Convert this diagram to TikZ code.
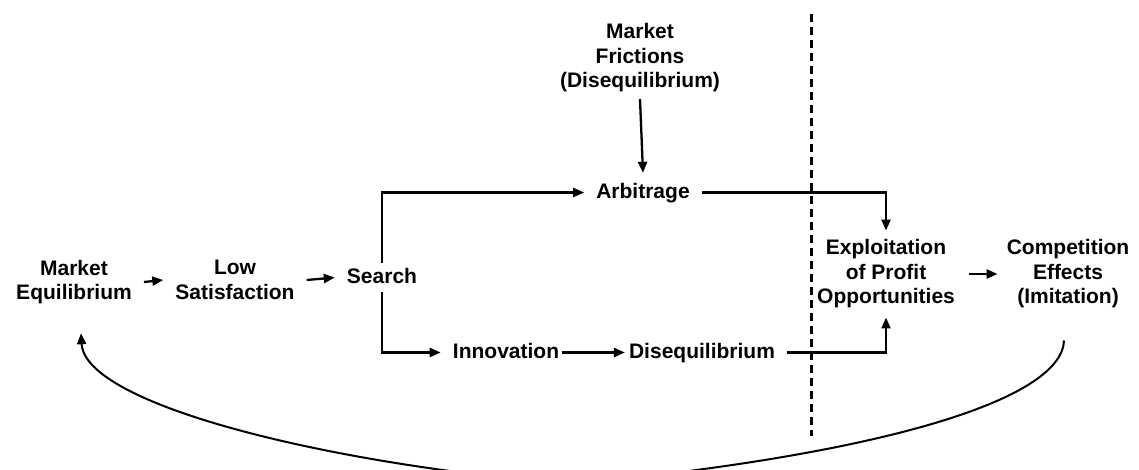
\documentclass[tikz,border=0pt]{standalone}
\usepackage{fontspec}
\setmainfont{Liberation Sans}
\usetikzlibrary{arrows.meta}
\begin{document}
\begin{tikzpicture}[x=1pt,y=-1pt,
  lbl/.style={font=\fontsize{21}{24.5}\selectfont\bfseries, align=center,
              inner xsep=12pt, inner ysep=4pt},
  one/.style={lbl, text height=15pt, text depth=4pt},
  conn/.style={line width=2.3pt, -{Triangle[length=11pt,width=9pt]}},
  loop/.style={line width=2pt, -{Triangle[length=11pt,width=9pt]}},
  divider/.style={line width=3pt, dash pattern=on 8pt off 5pt}]
\useasboundingbox (0,0) rectangle (1139,469);

% process nodes
\node[lbl] (me) at (74,282) {Market\\Equilibrium};
\node[lbl] (ls) at (235,280) {Low\\Satisfaction};
\node[one, inner ysep=5pt] (s) at (382,277.5) {Search};
\node[lbl, inner ysep=7pt] (fr) at (640,57.7) {Market\\Frictions\\(Disequilibrium)};
\node[one, inner ysep=10pt] (arb) at (643,192.5) {Arbitrage};
\node[one] (inn) at (506,352.5) {Innovation};
\node[one] (dq) at (702,352.5) {Disequilibrium};
\node[lbl, inner ysep=9pt, inner xsep=14pt] (ex) at (886,274) {Exploitation\\of Profit\\Opportunities};
\node[lbl, inner xsep=9pt, inner ysep=8pt] (ce) at (1068,274) {Competition\\Effects\\(Imitation)};

% dashed divider
\coordinate (dtop) at (811,14);
\coordinate (dbot) at (811,436);
\draw[divider] (dtop) -- (dbot);

% connectors
\draw[conn] (me.east) -- (ls.west);
\draw[conn] (ls.east) -- (s.west);
\draw[conn] (s.north) |- (arb.west);
\draw[conn] (s.south) |- (inn.west);
\draw[conn] (fr.south) -- (arb.north);
\draw[conn, shorten <=-9pt, shorten >=-8pt] (inn.east) -- (dq.west);
\draw[conn] (arb.east) -| (ex.north);
\draw[conn] (dq.east) -| (ex.south);
\draw[conn] (ex.east) -- (ce.west);

% feedback loop back to equilibrium
\coordinate (lstart) at ([xshift=-4pt, yshift=-24pt]ce.south);
\coordinate (lend) at ([xshift=7pt, yshift=-25pt]me.south);
\draw[loop] (lstart) .. controls (1062,400) and (880,455) .. (572,484)
  .. controls (330,465) and (85,405) .. (lend);
\end{tikzpicture}
\end{document}
